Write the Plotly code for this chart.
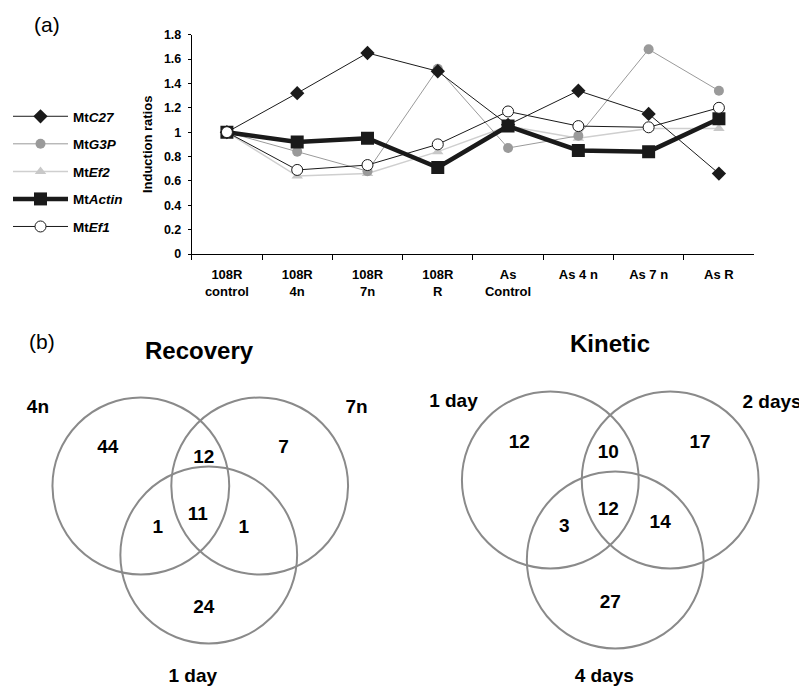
import plotly.graph_objects as go

# ---------------- data ----------------
categories = ["108R<br>control", "108R<br>4n", "108R<br>7n", "108R<br>R",
              "As<br>Control", "As 4 n", "As 7 n", "As R"]
c27 = [1.0, 1.32, 1.65, 1.50, 1.06, 1.34, 1.15, 0.66]
g3p = [1.0, 0.84, 0.68, 1.52, 0.87, 0.97, 1.68, 1.34]
ef2 = [1.0, 0.64, 0.66, 0.84, 1.05, 0.95, 1.03, 1.03]
actin = [1.0, 0.92, 0.95, 0.71, 1.05, 0.85, 0.84, 1.11]
ef1 = [1.0, 0.69, 0.73, 0.90, 1.17, 1.05, 1.04, 1.20]
y_ticks = [0, 0.2, 0.4, 0.6, 0.8, 1.0, 1.2, 1.4, 1.6, 1.8]

recovery_sets = ["4n", "7n", "1 day"]
# region order: A only, B only, C only, AB, AC, BC, ABC
recovery_counts = [44, 7, 24, 12, 1, 1, 11]
kinetic_sets = ["1 day", "2 days", "4 days"]
kinetic_counts = [12, 17, 27, 10, 3, 14, 12]

# ---------------- layout helpers ----------------
SW, SH = 807, 686          # browser window
OFF = 8                    # default body margin of the page
W, H = SW - OFF, SH - OFF  # figure size
FONT = "Liberation Sans, Arial, sans-serif"


def px(sx):
    return (sx - OFF) / W


def py(sy):
    return 1 - (sy - OFF) / H


fig = go.Figure()

series = [
    ("Mt<i>C27</i>", c27, dict(color="#1a1a1a", width=1), dict(symbol="diamond", size=11, color="#1a1a1a"), 1),
    ("Mt<i>G3P</i>", g3p, dict(color="#9a9a9a", width=1), dict(symbol="circle", size=10, color="#9a9a9a"), 2),
    ("Mt<i>Ef2</i>", ef2, dict(color="#cfcfcf", width=1.5), dict(symbol="triangle-up", size=10, color="#c8c8c8"), 3),
    ("Mt<i>Actin</i>", actin, dict(color="#1a1a1a", width=4.5), dict(symbol="square", size=13, color="#1a1a1a"), 4),
    ("Mt<i>Ef1</i>", ef1, dict(color="#1a1a1a", width=1), dict(symbol="circle", size=11, color="white",
                                                              line=dict(color="#1a1a1a", width=1)), 5),
]
draw_order = [2, 1, 0, 3, 4]
for i in draw_order:
    name, vals, line, marker, rank = series[i]
    fig.add_trace(go.Scatter(
        x=categories, y=vals, mode="lines+markers", name=name,
        line=line, marker=marker, legendgroup=str(rank), legendrank=rank,
        xaxis="x", yaxis="y"))

# ---------------- Venn diagrams (screen-pixel geometry) ----------------
venn_geom = [
    dict(title="Recovery", title_xy=(199, 350),
         centers=[(140, 486), (259, 486), (208, 555)], r=88.5,
         set_xy=[(37, 408), (356, 408), (192, 677)],
         region_xy=[(107, 448), (283, 448), (203, 608), (203, 458), (157, 528), (243, 528), (197, 515)]),
    dict(title="Kinetic", title_xy=(610, 343),
         centers=[(550, 480), (670, 480), (615, 560)], r=88.5,
         set_xy=[(453, 402), (772, 403), (604, 677)],
         region_xy=[(519, 443), (700, 443), (610, 603), (608, 453), (564, 527), (660, 523), (608, 510)]),
]
venn_data = [(recovery_sets, recovery_counts), (kinetic_sets, kinetic_counts)]

shapes = []
annotations = []
for geom, (sets, counts) in zip(venn_geom, venn_data):
    for (cx, cy) in geom["centers"]:
        shapes.append(dict(type="circle", xref="x2", yref="y2",
                           x0=cx - geom["r"], x1=cx + geom["r"],
                           y0=cy - geom["r"], y1=cy + geom["r"],
                           line=dict(color="#8a8a8a", width=2)))
    fig.add_trace(go.Scatter(
        x=[p[0] for p in geom["region_xy"]], y=[p[1] for p in geom["region_xy"]],
        text=[str(c) for c in counts], mode="text",
        textfont=dict(family=FONT, size=19, color="black", weight="bold"),
        xaxis="x2", yaxis="y2", showlegend=False, hoverinfo="skip"))
    fig.add_trace(go.Scatter(
        x=[p[0] for p in geom["set_xy"]], y=[p[1] for p in geom["set_xy"]],
        text=sets, mode="text",
        textfont=dict(family=FONT, size=19, color="black", weight="bold"),
        xaxis="x2", yaxis="y2", showlegend=False, hoverinfo="skip"))
    annotations.append(dict(x=geom["title_xy"][0], y=geom["title_xy"][1], xref="x2", yref="y2",
                            text=geom["title"], showarrow=False, xanchor="center", yanchor="middle",
                            font=dict(family=FONT, size=24, color="black", weight="bold")))

annotations.append(dict(x=px(46), y=py(24), xref="paper", yref="paper", text="(a)",
                        xanchor="center", yanchor="middle",
                        showarrow=False, font=dict(family=FONT, size=21, color="black")))
annotations.append(dict(x=px(41), y=py(342), xref="paper", yref="paper", text="(b)",
                        xanchor="center", yanchor="middle",
                        showarrow=False, font=dict(family=FONT, size=21, color="black")))

fig.update_layout(
    width=W, height=H,
    margin=dict(l=0, r=0, t=0, b=0),
    paper_bgcolor="white", plot_bgcolor="rgba(0,0,0,0)",
    template="none",
    font=dict(family=FONT, color="black"),
    showlegend=True,
    legend=dict(x=px(7), y=py(101), xanchor="left", yanchor="top",
                font=dict(family=FONT, size=13.5, color="black", weight="bold"),
                itemwidth=55, tracegroupgap=7, bgcolor="rgba(0,0,0,0)", borderwidth=0),
    xaxis=dict(domain=[px(191), px(754)], type="category", categoryorder="array",
               categoryarray=categories, range=[-0.5, 7.5],
               showline=True, linecolor="black", linewidth=1, mirror=False,
               ticks="outside", tickson="boundaries", ticklen=5, tickcolor="black",
               ticklabelstandoff=8,
               tickfont=dict(family=FONT, size=13, color="black", weight="bold"),
               showgrid=False, zeroline=False, anchor="y"),
    yaxis=dict(domain=[py(254), py(34.7)], range=[0, 1.8],
               tickvals=y_ticks, ticktext=[f"{v:g}" for v in y_ticks],
               showline=True, linecolor="black", linewidth=1,
               ticks="outside", ticklen=3, tickcolor="black",
               ticklabelstandoff=4,
               tickfont=dict(family=FONT, size=12.5, color="black", weight="bold"),
               title=dict(text="Induction ratios", standoff=8,
                          font=dict(family=FONT, size=13, color="black", weight="bold")),
               showgrid=False, zeroline=False, anchor="x"),
    xaxis2=dict(domain=[0, 1], range=[OFF, SW], visible=False, fixedrange=True, anchor="y2"),
    yaxis2=dict(domain=[0, (SH - 330) / H], range=[SH, 330], visible=False, fixedrange=True, anchor="x2"),
    shapes=shapes,
    annotations=annotations,
)

fig.write_html("out.html")
